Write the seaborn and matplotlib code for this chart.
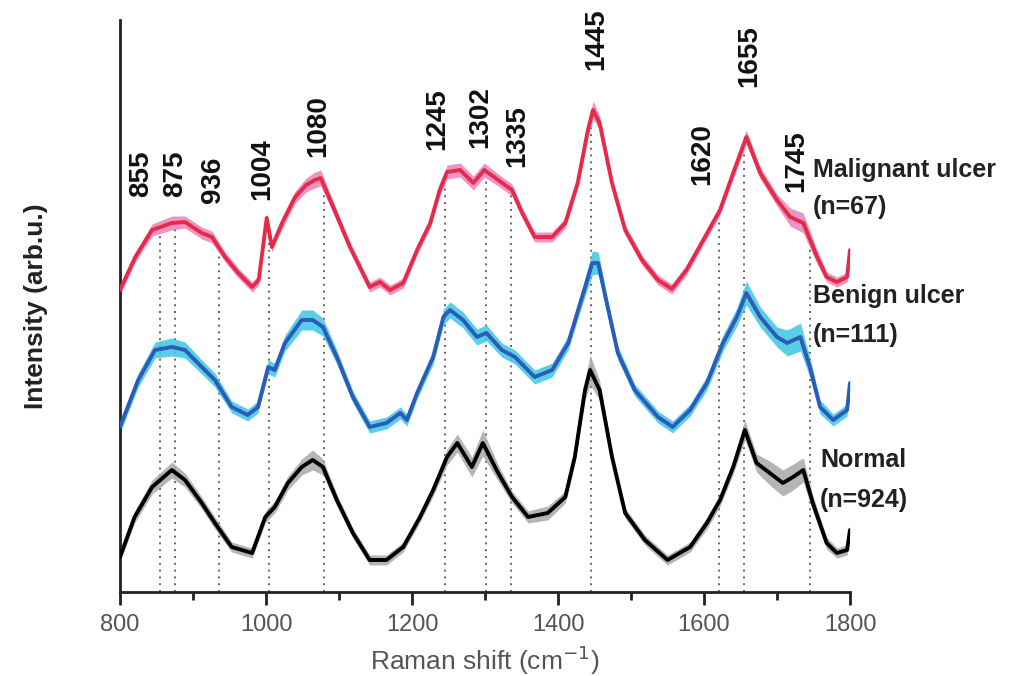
import numpy as np
import pandas as pd
import matplotlib
matplotlib.use("Agg")
import matplotlib.pyplot as plt
import seaborn as sns

# ---------------- data ----------------
mal_x = [800, 821, 844, 871, 889, 912, 926, 944, 962, 981, 990, 1001, 1008, 1022, 1040, 1055, 1067, 1075,
         1092, 1115, 1142, 1156, 1170, 1188, 1207, 1225, 1238, 1248, 1266, 1284, 1299, 1318, 1337, 1351,
         1368, 1392, 1410, 1427, 1441, 1448, 1457, 1474, 1492, 1515, 1537, 1556, 1576, 1599, 1622, 1640,
         1658, 1677, 1700, 1718, 1736, 1755, 1768, 1782, 1796, 1800]
mal_y = [3.02, 3.35, 3.62, 3.69, 3.70, 3.59, 3.55, 3.35, 3.19, 3.05, 3.12, 3.74, 3.45, 3.69, 3.95, 4.07, 4.12, 4.14,
         3.85, 3.45, 3.05, 3.10, 3.02, 3.09, 3.42, 3.69, 4.02, 4.20, 4.22, 4.09, 4.22, 4.12, 4.02, 3.79,
         3.55, 3.55, 3.69, 4.09, 4.62, 4.82, 4.69, 4.09, 3.62, 3.32, 3.12, 3.03, 3.22, 3.52, 3.82, 4.19,
         4.55, 4.19, 3.92, 3.75, 3.69, 3.35, 3.15, 3.10, 3.15, 3.42]
mal_sd = [0.05, 0.05, 0.06, 0.07, 0.06, 0.06, 0.06, 0.05, 0.05, 0.05, 0.05, 0.05, 0.05, 0.06, 0.06, 0.07, 0.08, 0.08,
          0.06, 0.05, 0.05, 0.05, 0.05, 0.05, 0.05, 0.05, 0.06, 0.07, 0.07, 0.07, 0.07, 0.06, 0.06, 0.05,
          0.05, 0.05, 0.05, 0.05, 0.07, 0.09, 0.07, 0.05, 0.05, 0.05, 0.05, 0.05, 0.05, 0.05, 0.05, 0.06,
          0.07, 0.06, 0.06, 0.09, 0.10, 0.07, 0.05, 0.05, 0.05, 0.05]

ben_x = [800, 825, 848, 871, 889, 912, 930, 953, 975, 989, 1003, 1012, 1026, 1049, 1064, 1078, 1097, 1119,
         1142, 1165, 1184, 1193, 1207, 1229, 1243, 1252, 1270, 1289, 1302, 1323, 1341, 1368, 1392, 1414,
         1433, 1447, 1455, 1468, 1482, 1505, 1537, 1557, 1581, 1604, 1626, 1645, 1658, 1677, 1700, 1714,
         1732, 1745, 1759, 1777, 1796, 1800]
ben_y = [1.65, 2.12, 2.42, 2.45, 2.42, 2.25, 2.12, 1.85, 1.77, 1.85, 2.25, 2.22, 2.49, 2.72, 2.72, 2.65, 2.35, 1.95,
         1.65, 1.69, 1.79, 1.72, 1.99, 2.35, 2.75, 2.82, 2.72, 2.55, 2.59, 2.42, 2.35, 2.15, 2.22, 2.49,
         2.95, 3.29, 3.29, 2.85, 2.39, 2.02, 1.75, 1.65, 1.82, 2.09, 2.49, 2.75, 2.99, 2.75, 2.55, 2.49,
         2.55, 2.25, 1.85, 1.72, 1.82, 2.09]
ben_sd = [0.06, 0.07, 0.08, 0.09, 0.08, 0.07, 0.07, 0.06, 0.06, 0.06, 0.07, 0.07, 0.08, 0.10, 0.10, 0.09, 0.07, 0.06,
          0.06, 0.06, 0.06, 0.06, 0.06, 0.07, 0.08, 0.08, 0.08, 0.08, 0.08, 0.07, 0.07, 0.07, 0.07, 0.07,
          0.08, 0.12, 0.11, 0.08, 0.07, 0.06, 0.06, 0.06, 0.06, 0.07, 0.08, 0.09, 0.12, 0.10, 0.10, 0.13,
          0.14, 0.10, 0.07, 0.06, 0.06, 0.06]

nor_x = [800, 820, 844, 871, 889, 912, 930, 953, 981, 999, 1012, 1030, 1049, 1064, 1078, 1097, 1119, 1142,
         1165, 1188, 1211, 1229, 1248, 1262, 1282, 1297, 1318, 1337, 1359, 1386, 1410, 1423, 1437, 1444,
         1457, 1474, 1492, 1519, 1550, 1581, 1604, 1622, 1640, 1656, 1672, 1690, 1708, 1722, 1736, 1749,
         1768, 1782, 1796, 1800]
nor_y = [0.35, 0.75, 1.05, 1.22, 1.12, 0.89, 0.69, 0.45, 0.39, 0.75, 0.85, 1.09, 1.25, 1.32, 1.25, 0.92, 0.59, 0.32,
         0.32, 0.45, 0.75, 1.02, 1.35, 1.49, 1.25, 1.49, 1.19, 0.95, 0.75, 0.79, 0.95, 1.35, 2.02, 2.22,
         2.02, 1.35, 0.79, 0.52, 0.32, 0.45, 0.69, 0.92, 1.25, 1.62, 1.29, 1.19, 1.09, 1.15, 1.22, 0.89,
         0.49, 0.39, 0.42, 0.62]
nor_sd = [0.05, 0.06, 0.07, 0.08, 0.07, 0.06, 0.06, 0.05, 0.05, 0.06, 0.06, 0.07, 0.08, 0.10, 0.08, 0.06, 0.05, 0.05,
          0.05, 0.05, 0.05, 0.06, 0.08, 0.09, 0.10, 0.13, 0.08, 0.06, 0.06, 0.07, 0.06, 0.06, 0.10, 0.15,
          0.10, 0.06, 0.05, 0.05, 0.05, 0.05, 0.06, 0.06, 0.07, 0.10, 0.09, 0.12, 0.13, 0.13, 0.12, 0.08,
          0.06, 0.05, 0.05, 0.05]

group_names = ["Malignant ulcer", "Benign ulcer", "Normal"]
group_counts = ["(n=67)", "(n=111)", "(n=924)"]
peak_positions = [855, 875, 936, 1004, 1080, 1245, 1302, 1335, 1445, 1620, 1655, 1745]
x_ticks = [800, 1000, 1200, 1400, 1600, 1800]

# ---------------- layout / style ----------------
line_colors = ["#e62a48", "#2a5cb8", "#000000"]
band_colors = ["#e884bc", "#3cc6e2", "#a8a8a8"]
# peak-label anchors (x, bottom y) in data coordinates
label_anchor = [(829, 3.95), (875, 3.95), (927, 3.89), (995, 3.92), (1071, 4.35), (1234, 4.42),
                (1293, 4.44), (1344, 4.25), (1453, 5.22), (1597, 4.07), (1662, 5.05), (1726, 4.00)]
# group-name anchors: x, name y, count y (data coordinates)
name_pos = [(1749, 4.22, 3.85), (1749, 2.96, 2.57), (1759, 1.32, 0.92)]

sns.set_style("ticks")
plt.rcParams["font.family"] = ["Liberation Sans", "DejaVu Sans"]

fig = plt.figure(figsize=(10.23, 6.76), dpi=100)
ax = fig.add_axes([120 / 1023, 1 - 592 / 676, 730 / 1023, 572 / 676])

frames = []
for name, xs, ys, sd in zip(group_names, [mal_x, ben_x, nor_x], [mal_y, ben_y, nor_y], [mal_sd, ben_sd, nor_sd]):
    frames.append(pd.DataFrame({"shift": xs, "intensity": ys, "sd": sd, "group": name}))
df = pd.concat(frames, ignore_index=True)

# dotted peak guides (drawn first, behind the spectra)
mal_df = df[df.group == group_names[0]]
for p in peak_positions:
    top = np.interp(p, mal_df["shift"], mal_df["intensity"]) - 0.06
    ax.plot([p, p], [0, top], ls=(0, (1, 2.5)), color="#666666", lw=1.4, zorder=1)

for name, lc, bc in zip(group_names, line_colors, band_colors):
    d = df[df.group == name]
    ax.fill_between(d["shift"], d["intensity"] - d["sd"], d["intensity"] + d["sd"],
                    color=bc, alpha=0.85, lw=0, zorder=2)
    sns.lineplot(data=d, x="shift", y="intensity", color=lc, lw=2.8, ax=ax,
                 estimator=None, sort=True, zorder=3)

ax.set_xlim(800, 1800)
ax.set_ylim(0, 5.72)
ax.set_yticks([])
ax.set_xticks(x_ticks)
ax.set_xticks(np.arange(900, 1800, 200), minor=True)
ax.tick_params(axis="x", which="major", length=9, width=2, colors="#222222",
               labelsize=17, labelcolor="#555555", pad=7)
ax.tick_params(axis="x", which="minor", length=6, width=2, colors="#222222")
for s in ["top", "right"]:
    ax.spines[s].set_visible(False)
for s in ["left", "bottom"]:
    ax.spines[s].set_linewidth(2)
    ax.spines[s].set_color("#222222")

ax.set_xlabel("Raman shift (cm$^{-1}$)", fontsize=19, color="#555555", labelpad=5)
ax.set_ylabel("Intensity (arb.u.)", fontsize=19, fontweight="bold", color="#222222", labelpad=52)

for p, (lx, ly) in zip(peak_positions, label_anchor):
    ax.text(lx, ly, str(p), rotation=90, ha="center", va="bottom", fontsize=20,
            fontweight="bold", color="#111111", clip_on=False)

for name, cnt, (nx, ny, cy) in zip(group_names, group_counts, name_pos):
    ax.text(nx, ny, name, fontsize=18, fontweight="bold", color="#222222",
            ha="left", va="center", clip_on=False)
    ax.text(nx, cy, cnt, fontsize=18, fontweight="bold", color="#222222",
            ha="left", va="center", clip_on=False)

if ax.get_legend() is not None:
    ax.get_legend().remove()

fig.savefig("out.png", dpi=100)
